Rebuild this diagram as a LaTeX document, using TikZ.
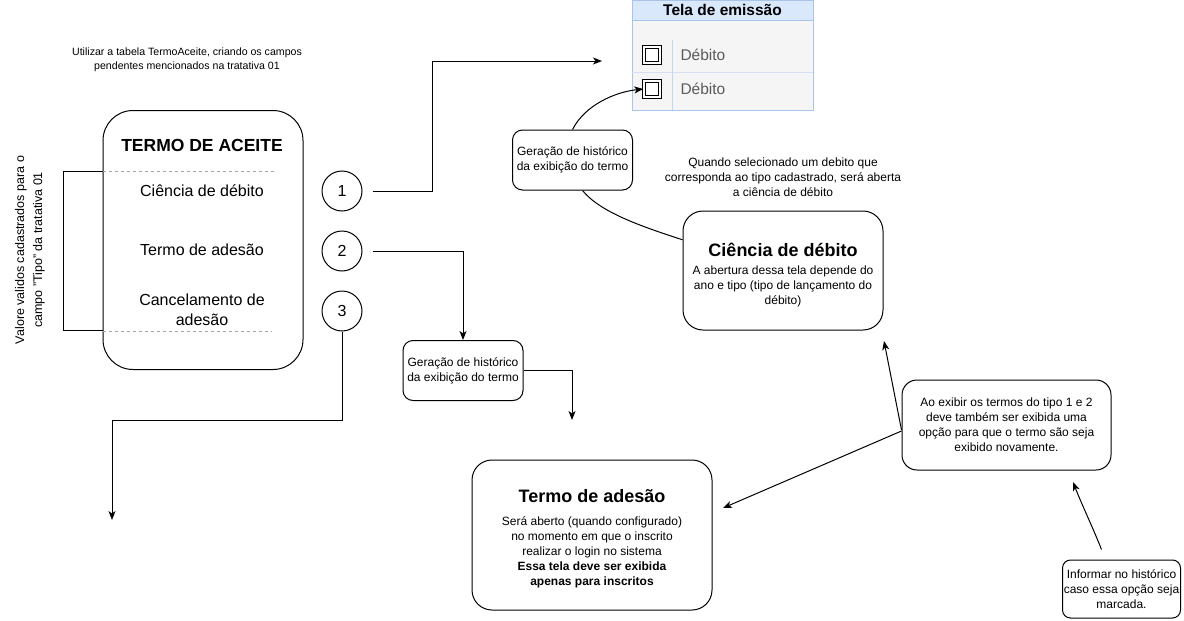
\documentclass[tikz,border=0pt]{standalone}
\usepackage{fontspec}
\setmainfont{Liberation Sans}
\usetikzlibrary{positioning,arrows.meta}
\definecolor{telaborda}{HTML}{A9C4EB}
\definecolor{telatopo}{HTML}{DAE8FC}
\definecolor{telafundo}{HTML}{F5F5F5}
\definecolor{telatexto}{HTML}{5A5A5A}
\definecolor{tracejado}{HTML}{A6A6A6}

\begin{document}
\begin{tikzpicture}[%
    >={Stealth[length=9pt, width=7pt, inset=2.5pt]},
    x=1pt, y=-1pt,
    line width=1pt,
    every node/.style={font=\fontsize{12}{15}\selectfont, align=center, inner sep=0pt},
    caixa/.style={draw, rounded corners=10pt},
    caixagrande/.style={draw, rounded corners=20pt},
    numero/.style={draw, circle, minimum size=40, font=\fontsize{16}{18}\selectfont},
    item/.style={font=\fontsize{16}{20}\selectfont},
    titulo/.style={font=\bfseries\fontsize{18}{21}\selectfont},
  ]
    \useasboundingbox (0,0) rectangle (1184,621);

    \node[font=\fontsize{10.6}{14}\selectfont] (nota1) at (187,60) {Utilizar a tabela TermoAceite, criando os campos\\pendentes mencionados na tratativa 01};

    \node[draw, rounded corners=30pt, minimum width=200, minimum height=259] (aceite) at (203,240) {};
    \node[font=\bfseries\fontsize{17.5}{20}\selectfont] (aceitetit) at (202,145) {TERMO DE ACEITE};
    \node[item] (itcien) at (202,191) {Ciência de débito};
    \node[item] (itades) at (202,250) {Termo de adesão};
    \node[item] (itcanc) at (202,310) {Cancelamento de\\adesão};
    \draw[tracejado, dashed, line width=0.8pt] (aceite.west |- 0,171) -- (275,171);
    \draw[tracejado, dashed, line width=0.8pt] (aceite.west |- 0,331) -- (271,331);
    \draw (aceite.west |- 0,171) -- (63,171) -- (63,330) -- (aceite.west |- 0,330);
    \node[rotate=90, font=\fontsize{12.5}{18}\selectfont] (nota3) at (30,250) {Valore validos cadastrados para o\\campo "Tipo" da tratativa 01};

    \node[numero] (1) at (342,191) {1};
    \node[numero] (2) at (342,251) {2};
    \node[numero] (3) at (342,311) {3};

    \node[draw=telaborda, fill=telafundo, minimum width=181, minimum height=110] (tela) at (722.5,55) {};
    \node[draw=telaborda, fill=telatopo, minimum width=181, minimum height=20, font=\bfseries\fontsize{15.5}{17}\selectfont] (telatit) at (722.5,10) {Tela de emissão};
    \draw[telaborda!50, line width=0.8pt] (632,72) -- (813,72);
    \draw[telaborda!70, line width=0.8pt] (672,40) -- (672,110);
    \node[draw, fill=white, double, double distance=1.7pt, minimum size=16.5] (chk1) at (652,55) {};
    \node[draw, fill=white, double, double distance=1.7pt, minimum size=16.5] (chk2) at (652,89) {};
    \node[anchor=west, text=telatexto, font=\fontsize{15.5}{17}\selectfont] (deb1) at (680,55) {Débito};
    \node[anchor=west, text=telatexto, font=\fontsize{15.5}{17}\selectfont] (deb2) at (680,89) {Débito};

    \node[caixa, minimum width=120, minimum height=60] (hist1) at (572.5,160) {Geração de histórico\\da exibição do termo};
    \node[caixa, minimum width=120, minimum height=60] (hist2) at (463,370.5) {Geração de histórico\\da exibição do termo};

    \node (nota2) at (783,177) {Quando selecionado um debito que\\corresponda ao tipo cadastrado, será aberta\\a ciência de débito};

    \node[caixagrande, minimum width=200, minimum height=119] (cien) at (783,270.5) {};
    \node[titulo] (cientit) at (783,250) {Ciência de débito};
    \node (cientxt) at (783,286) {A abertura dessa tela depende do\\ano e tipo (tipo de lançamento do\\débito)};

    \node[caixa, rounded corners=15pt, minimum width=209, minimum height=90] (opcao) at (1006.5,425) {Ao exibir os termos do tipo 1 e 2\\deve também ser exibida uma\\opção para que o termo são seja\\exibido novamente.};

    \node[caixagrande, minimum width=240, minimum height=150] (ades) at (592,535) {};
    \node[titulo] (adestit) at (592,496) {Termo de adesão};
    \node (adestxt) at (592,552) {Será aberto (quando configurado)\\no momento em que o inscrito\\realizar o login no sistema\\\textbf{Essa tela deve ser exibida}\\\textbf{apenas para inscritos}};

    \node[caixa, rounded corners=8pt, minimum width=118, minimum height=58] (inform) at (1121.5,589) {Informar no histórico\\caso essa opção seja\\marcada.};

    \coordinate (fim1) at (602,61);
    \coordinate (fim2) at (572,420);
    \coordinate (fim3) at (112,520);
    \coordinate (fim4) at (884,341);
    \coordinate (fim5) at (723,508);
    \coordinate (fim6) at (1073,482);

    \draw[->, shorten <=10pt] (1.east) -- ++(70,0) |- (fim1);
    \draw[->, shorten <=10pt] (2.east) -| (hist2.north);
    \draw[->] (hist2.east) -| (fim2);
    \draw[->] (3.south) -- ++(0,89) -| (fim3);
    \draw[->] (hist1.north) .. controls (585,105) and (615,92) .. (chk2.west);
    \draw ([xshift=10pt]hist1.south) .. controls (600,212) and (640,226) .. (cien.163);
    \draw[->] ([yshift=-5pt]opcao.west) -- (fim4);
    \draw[->] ([yshift=-6pt]opcao.west) -- (fim5);
    \draw[->] ([xshift=-20pt,yshift=10pt]inform.north) .. controls (1093,528) and (1082,505) .. (fim6);
  \end{tikzpicture}
\end{document}
